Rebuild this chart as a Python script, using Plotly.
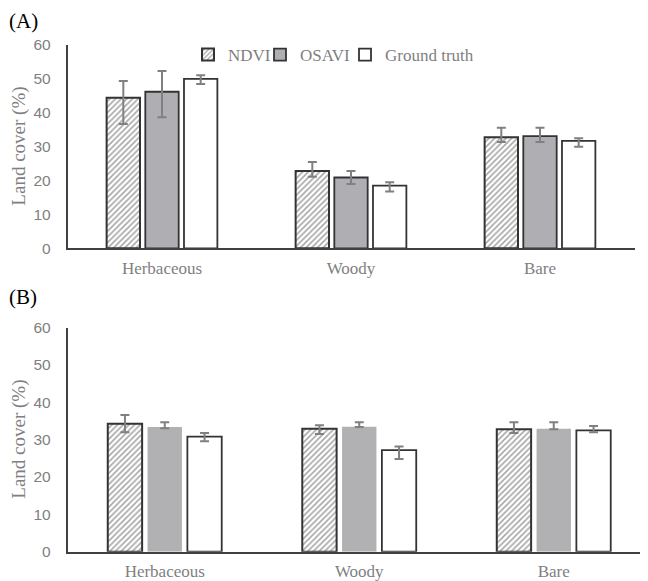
import plotly.graph_objects as go

categories = ["Herbaceous", "Woody", "Bare"]
series_names = ["NDVI", "OSAVI", "Ground truth"]

# Panel A values and asymmetric error bars
a_ndvi = [44.4, 22.8, 32.8]
a_ndvi_plus = [5.0, 2.7, 2.8]
a_ndvi_minus = [7.7, 1.7, 1.4]
a_osavi = [46.2, 20.9, 33.1]
a_osavi_plus = [6.1, 1.9, 2.5]
a_osavi_minus = [7.5, 1.9, 1.7]
a_gt = [50.0, 18.5, 31.7]
a_gt_plus = [1.1, 1.0, 0.8]
a_gt_minus = [1.5, 1.7, 1.7]

# Panel B values and asymmetric error bars
b_ndvi = [34.3, 32.9, 32.8]
b_ndvi_plus = [2.3, 1.0, 1.9]
b_ndvi_minus = [2.3, 1.4, 1.0]
b_osavi = [33.4, 33.5, 32.9]
b_osavi_plus = [1.3, 1.2, 1.8]
b_osavi_minus = [0.3, 0.1, 0.1]
b_gt = [30.8, 27.2, 32.5]
b_gt_plus = [1.0, 1.0, 1.2]
b_gt_minus = [1.2, 2.4, 0.5]

y_ticks = [0, 10, 20, 30, 40, 50, 60]

# page has an 8px body margin: figure drawn at (8, 8)
OFF = 8
W, H = 648 - OFF, 581 - OFF


def px(x):
    return (x - OFF) / W


def py(y):
    return 1 - (y - OFF) / H


SERIF = "Liberation Serif, Times New Roman, serif"
SANS = "Liberation Sans, Arial, sans-serif"
GRAY_TXT = "#7f7f7f"
EDGE = "#333333"
ERR = dict(type="data", symmetric=False, color="#808080", thickness=2, width=4.5)
OSAVI_FILL = "#afafb3"

fig = go.Figure()


def err(plus, minus):
    d = dict(ERR)
    d["array"] = plus
    d["arrayminus"] = minus
    return d


legends = ["legend", "legend2", "legend3"]

panelA = [
    (a_ndvi, a_ndvi_plus, a_ndvi_minus),
    (a_osavi, a_osavi_plus, a_osavi_minus),
    (a_gt, a_gt_plus, a_gt_minus),
]
panelB = [
    (b_ndvi, b_ndvi_plus, b_ndvi_minus),
    (b_osavi, b_osavi_plus, b_osavi_minus),
    (b_gt, b_gt_plus, b_gt_minus),
]


def style(i, panel):
    if i == 0:
        return dict(color="white", line=dict(color=EDGE, width=2),
                    pattern=dict(shape="/", fgcolor="#4a4a4a", bgcolor="white",
                                 size=4, solidity=0.38))
    if i == 1:
        if panel == "A":
            return dict(color=OSAVI_FILL, line=dict(color=EDGE, width=1.8))
        return dict(color="#b1b1b3", line=dict(color="#b1b1b3", width=0))
    return dict(color="white", line=dict(color=EDGE, width=1.8))


for i, (vals, p, m) in enumerate(panelA):
    fig.add_trace(go.Bar(x=categories, y=vals, name=series_names[i],
                         marker=style(i, "A"), error_y=err(p, m),
                         xaxis="x", yaxis="y", legend=legends[i],
                         offsetgroup=str(i)))
for i, (vals, p, m) in enumerate(panelB):
    fig.add_trace(go.Bar(x=categories, y=vals, name=series_names[i],
                         marker=style(i, "B"), error_y=err(p, m),
                         xaxis="x2", yaxis="y2", showlegend=False,
                         offsetgroup=str(i)))

yA = [py(248.3), py(45)]
yB = [py(551.7), py(327.7)]

xcommon = dict(type="category", showgrid=False, showline=True, linecolor="#404040",
               linewidth=1.7, ticks="", tickfont=dict(family=SERIF, size=17, color=GRAY_TXT),
               ticklabelstandoff=3, zeroline=False, automargin=False)
ycommon = dict(range=[0, 60], tickvals=y_ticks, showgrid=False, showline=True,
               linecolor="#404040", linewidth=1.5, ticks="", zeroline=False,
               tickfont=dict(family=SANS, size=15.5, color=GRAY_TXT),
               ticklabelstandoff=12, automargin=False)

legend_common = dict(orientation="h", bgcolor="rgba(0,0,0,0)", yanchor="middle",
                     y=py(55), xanchor="left",
                     font=dict(family=SERIF, size=17, color=GRAY_TXT))
leg_x = [188, 260, 345]

# panel B axis runs past the right edge of the page (category width ~194.5px)
b_right = 2.5 - (651 - 648) / 194.5

fig.update_layout(
    width=W, height=H,
    margin=dict(l=0, r=0, t=0, b=0),
    paper_bgcolor="white", plot_bgcolor="white",
    barmode="group", bargap=0.386, bargroupgap=0.137,
    xaxis=dict(domain=[px(67.5), px(634.5)], range=[-0.5, 2.5], anchor="y", **xcommon),
    yaxis=dict(domain=yA, anchor="x", **ycommon),
    xaxis2=dict(domain=[px(67.5), 1.0], range=[-0.5, b_right], anchor="y2", **xcommon),
    yaxis2=dict(domain=yB, anchor="x2", **ycommon),
    legend=dict(x=px(leg_x[0]), **legend_common),
    legend2=dict(x=px(leg_x[1]), **legend_common),
    legend3=dict(x=px(leg_x[2]), **legend_common),
)

annos = [
    dict(text="(A)", x=px(7), y=py(21), xanchor="left", yanchor="middle",
         font=dict(family=SERIF, size=21, color="black")),
    dict(text="(B)", x=px(7), y=py(297), xanchor="left", yanchor="middle",
         font=dict(family=SERIF, size=21, color="black")),
    dict(text="Land cover (%)", textangle=-90, x=px(19), y=(yA[0] + yA[1]) / 2,
         xanchor="center", yanchor="middle",
         font=dict(family=SERIF, size=19, color=GRAY_TXT)),
    dict(text="Land cover (%)", textangle=-90, x=px(19), y=(yB[0] + yB[1]) / 2,
         xanchor="center", yanchor="middle",
         font=dict(family=SERIF, size=19, color=GRAY_TXT)),
]
for a in annos:
    a.update(xref="paper", yref="paper", showarrow=False)
fig.update_layout(annotations=annos)

fig.write_html("out.html")
